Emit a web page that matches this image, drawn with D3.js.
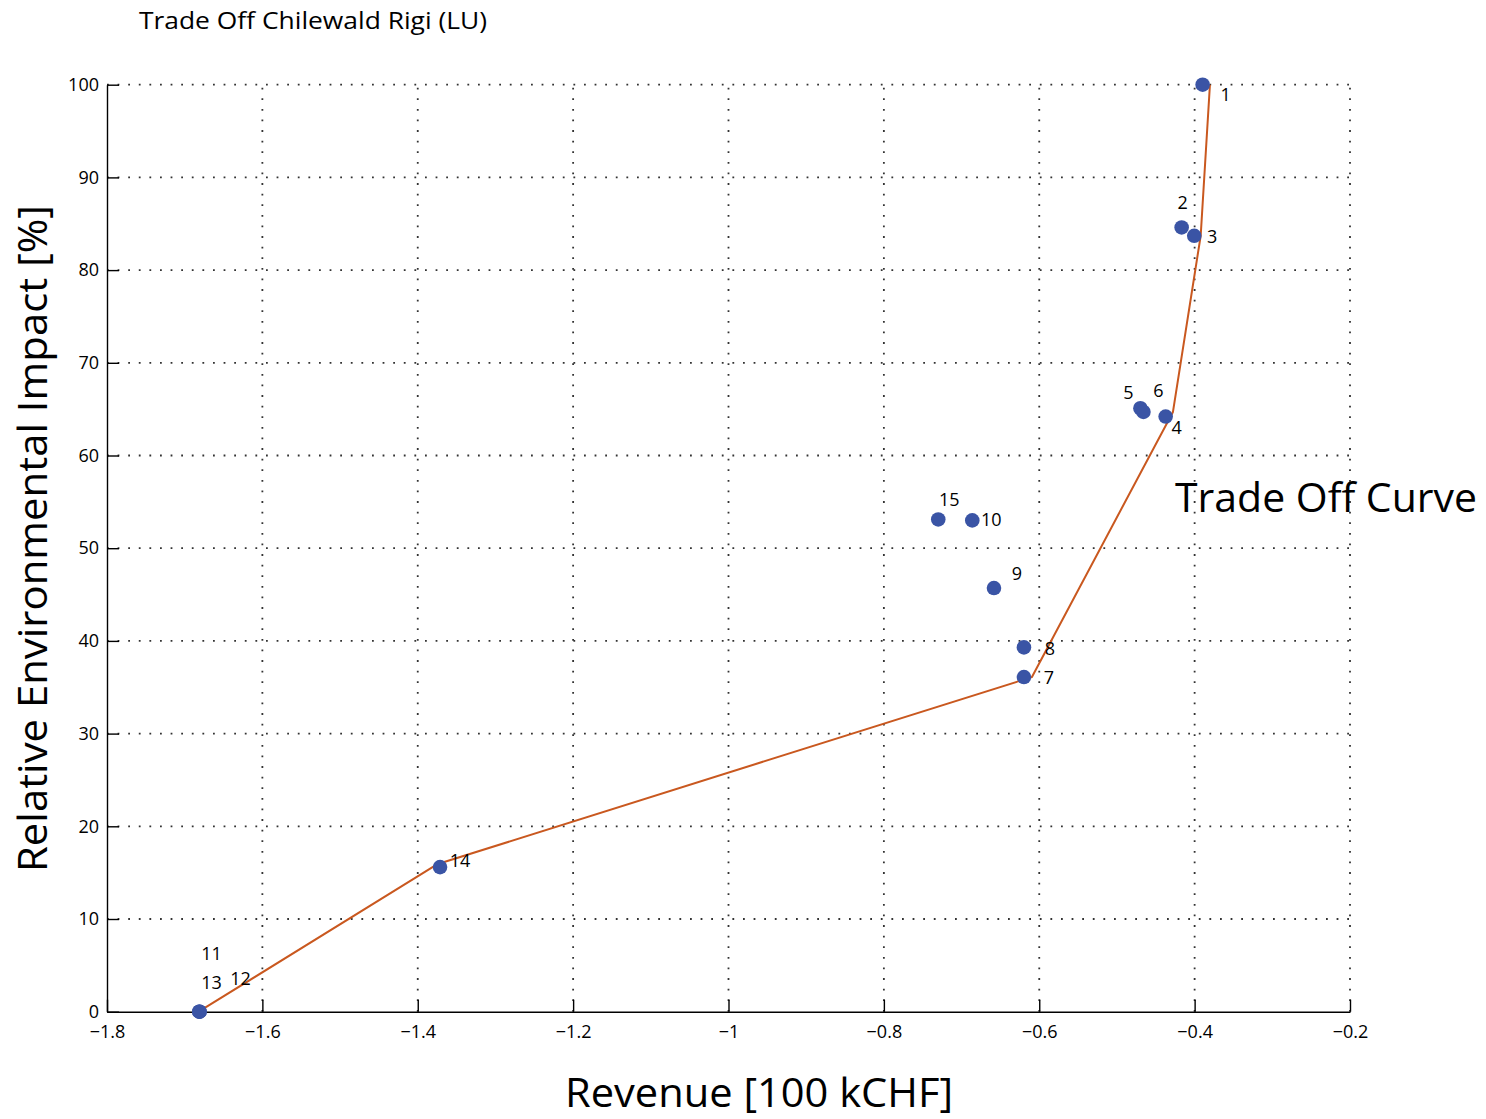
<!DOCTYPE html>
<html>
<head>
<meta charset="utf-8">
<script src="https://cdn.jsdelivr.net/npm/d3@7"></script>
<style>
  html, body { margin: 0; padding: 0; background: #fff; }
  svg { display: block; }
  text { font-family: "Open Sans", "Noto Sans", sans-serif; fill: #000; }
</style>
</head>
<body>
<div id="chart"></div>
<script>
// ---- data ----
const pointIds = [1, 2, 3, 4, 5, 6, 7, 8, 9, 10, 11, 12, 13, 14, 15];
const pointRevenue = [-0.3897, -0.4167, -0.4005, -0.4373, -0.4698, -0.4659, -0.6197, -0.6197, -0.6583, -0.6862, -1.681, -1.681, -1.681, -1.3713, -0.730];
const pointImpact = [100, 84.6, 83.7, 64.2, 65.1, 64.7, 36.1, 39.3, 45.7, 53.0, 0, 0, 0, 15.6, 53.1];

const curveRevenue = [-1.682, -1.3752, -0.6094, -0.4279, -0.3922, -0.3803];
const curveImpact = [0, 15.9, 36.1, 64.7, 83.7, 100];

const xTicks = [-1.8, -1.6, -1.4, -1.2, -1, -0.8, -0.6, -0.4, -0.2];
const yTicks = [0, 10, 20, 30, 40, 50, 60, 70, 80, 90, 100];

const titleText = "Trade Off Chilewald Rigi (LU)";
const xLabelText = "Revenue [100 kCHF]";
const yLabelText = "Relative Environmental Impact [%]";
const curveLabelText = "Trade Off Curve";

// ---- layout (pixel offsets of point labels, not data) ----
const labelOffset = {
  1: [23, 9], 2: [1, -25], 3: [18, 0], 4: [11, 10], 5: [-12, -16], 6: [15, -22],
  7: [25, 0], 8: [26, 1], 9: [23, -15], 10: [19, -1], 11: [12, -59], 12: [41, -34],
  13: [12, -30], 14: [20, -7], 15: [11, -20]
};

const W = 1486, H = 1119;
const pLeft = 107, pRight = 1350, pTop = 84.7, pBottom = 1011.7;

const svg = d3.select("#chart").append("svg").attr("width", W).attr("height", H);

const x = d3.scaleLinear().domain([-1.8, -0.2]).range([pLeft, pRight]);
const y = d3.scaleLinear().domain([0, 100]).range([pBottom, pTop]);

const minus = v => (v < 0 ? "\u2212" : "") + Math.abs(v);

// grid (dotted)
const grid = svg.append("g").attr("stroke", "#333").attr("stroke-width", 1.8)
  .attr("stroke-dasharray", "1.8,8.8").attr("fill", "none");
xTicks.slice(1).forEach(t => {
  grid.append("line").attr("x1", x(t)).attr("x2", x(t)).attr("y1", pBottom).attr("y2", pTop);
});
yTicks.slice(1).forEach(t => {
  grid.append("line").attr("x1", pLeft).attr("x2", pRight).attr("y1", y(t)).attr("y2", y(t));
});

// axes
const xAxis = d3.axisBottom(x).tickValues(xTicks).tickSizeInner(-12).tickSizeOuter(0)
  .tickPadding(20).tickFormat(minus);
const gx = svg.append("g").attr("transform", `translate(0,${pBottom})`).call(xAxis);
gx.select(".domain").attr("stroke", "#000").attr("stroke-width", 1.4);
gx.selectAll(".tick line").attr("stroke", "#000").attr("stroke-width", 1.4);
gx.selectAll(".tick text").style("font-size", "18px").attr("dy", "0.32em").attr("y", 21);

const yAxis = d3.axisLeft(y).tickValues(yTicks).tickSizeInner(-12).tickSizeOuter(0)
  .tickPadding(20).tickFormat(d3.format("d"));
const gy = svg.append("g").attr("transform", `translate(${pLeft},0)`).call(yAxis);
gy.select(".domain").attr("stroke", "#000").attr("stroke-width", 1.4);
gy.selectAll(".tick line").attr("stroke", "#000").attr("stroke-width", 1.4);
gy.selectAll(".tick text").style("font-size", "18px").attr("x", -8);

// trade-off curve
const curveData = curveRevenue.map((r, i) => [r, curveImpact[i]]);
svg.append("path").datum(curveData)
  .attr("fill", "none").attr("stroke", "#c9581f").attr("stroke-width", 2)
  .attr("stroke-linejoin", "round")
  .attr("d", d3.line().x(d => x(d[0])).y(d => y(d[1])));

// points
const pts = pointIds.map((id, i) => ({ id, r: pointRevenue[i], v: pointImpact[i] }));
svg.append("g").selectAll("circle").data(pts).join("circle")
  .attr("cx", d => x(d.r)).attr("cy", d => y(d.v)).attr("r", 7.3)
  .attr("fill", "#3a54a5");

// point labels
svg.append("g").selectAll("text").data(pts).join("text")
  .attr("x", d => x(d.r) + labelOffset[d.id][0])
  .attr("y", d => y(d.v) + labelOffset[d.id][1])
  .attr("text-anchor", "middle").attr("dominant-baseline", "central")
  .style("font-size", "18px")
  .text(d => d.id);

// title
svg.append("text").attr("x", 139).attr("y", 29).style("font-size", "23px")
  .attr("textLength", 348).attr("lengthAdjust", "spacingAndGlyphs").text(titleText);

// x label
svg.append("text").attr("x", 565).attr("y", 1107).style("font-size", "40px")
  .attr("textLength", 388).attr("lengthAdjust", "spacingAndGlyphs").text(xLabelText);

// y label
svg.append("text").attr("transform", "translate(47,872) rotate(-90)")
  .style("font-size", "41px")
  .attr("textLength", 667).attr("lengthAdjust", "spacingAndGlyphs").text(yLabelText);

// curve annotation
svg.append("text").attr("x", 1175).attr("y", 512).style("font-size", "41px")
  .attr("textLength", 302).attr("lengthAdjust", "spacingAndGlyphs").text(curveLabelText);
</script>
</body>
</html>
